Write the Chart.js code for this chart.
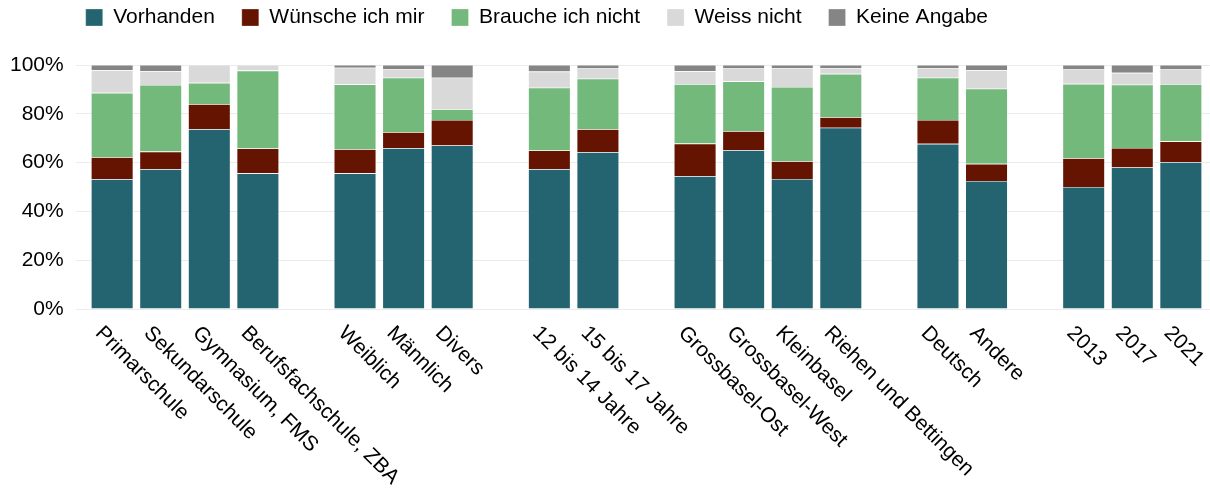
<!DOCTYPE html>
<html>
<head>
<meta charset="utf-8">
<title>Angebot nach Gruppen</title>
<script src="https://cdn.jsdelivr.net/npm/chart.js"></script>
<style>
body{margin:0;background:#fff;}
#wrap{width:1210px;height:500px;}
</style>
</head>
<body>
<div id="wrap"><canvas id="chart" width="1210" height="500"></canvas></div>

<script>
// categories, '' marks the blank slot between two groups
const categories=["Primarschule","Sekundarschule","Gymnasium, FMS","Berufsfachschule, ZBA","",
"Weiblich","Männlich","Divers","",
"12 bis 14 Jahre","15 bis 17 Jahre","",
"Grossbasel-Ost","Grossbasel-West","Kleinbasel","Riehen und Bettingen","",
"Deutsch","Andere","",
"2013","2017","2021"];

// shares in percent
const vorhanden=[53.2,57.3,73.7,55.6,null,55.6,65.9,67.0,null,57.3,64.3,null,54.4,65.1,53.3,74.3,null,67.7,52.5,null,50.0,58.0,60.2];
const wuensche=[9.0,7.2,10.3,10.2,null,9.9,6.6,10.5,null,7.7,9.4,null,13.4,7.8,7.3,4.3,null,9.8,7.0,null,11.8,8.0,8.5];
const braucheNicht=[26.4,27.3,8.7,31.9,null,26.6,22.3,4.4,null,25.7,20.7,null,24.4,20.4,30.4,17.8,null,17.3,30.8,null,30.5,25.9,23.5];
const weissNicht=[9.3,5.7,7.3,2.3,null,6.8,3.6,12.9,null,6.6,4.2,null,5.2,5.3,7.8,2.4,null,4.0,7.6,null,5.9,4.9,6.0];
const keineAngabe=[2.1,2.5,0,0,null,1.1,1.6,5.2,null,2.7,1.4,null,2.6,1.4,1.2,1.2,null,1.2,2.1,null,1.8,3.2,1.8];

const yTicks=[0,20,40,60,80,100];

const seriesNames=["Vorhanden","Wünsche ich mir","Brauche ich nicht","Weiss nicht","Keine Angabe"];
const seriesValues=[vorhanden,wuensche,braucheNicht,weissNicht,keineAngabe];
const seriesColors=["#246470","#641400","#73b97b","#d9d9d9","#858585"];

const FONT="'Liberation Sans', Arial, sans-serif";

// extra room below the legend, and legend pulled a bit to the left
const legendPlace={
id:"legendPlace",
beforeInit(chart){
const fit=chart.legend.fit;
chart.legend.fit=function(){
fit.call(this);
this.height+=27;
};
},
afterLayout(chart){
chart.legend.left-=17;
chart.legend.right-=17;
}
};

// category names, rotated 45deg and running down to the right
const slantLabels={
id:"slantLabels",
afterDraw(chart){
const ctx=chart.ctx;
const x=chart.scales.x;
ctx.save();
ctx.font="21px "+FONT;
ctx.fillStyle="#000";
ctx.textAlign="left";
ctx.textBaseline="alphabetic";
categories.forEach((name,i)=>{
if(!name)return;
const px=x.getPixelForValue(i);
ctx.save();
ctx.translate(px-17.6,chart.chartArea.bottom+25);
ctx.rotate(Math.PI/4);
ctx.fillText(name,0,0);
ctx.restore();
});
ctx.restore();
}
};

new Chart(document.getElementById("chart"),{
type:"bar",
data:{
datasets:seriesNames.map((name,s)=>({
label:name,
data:seriesValues[s].map((v,i)=>({x:i,y:v})),
backgroundColor:seriesColors[s],
borderColor:"rgba(255,255,255,0.45)",
borderWidth:0.6,
categoryPercentage:1,
barPercentage:0.87
}))
},
options:{
responsive:false,
animation:false,
layout:{padding:{top:-20,bottom:191,right:0,left:-2}},
plugins:{
legend:{
position:"top",
align:"start",
fullSize:false,
labels:{
boxWidth:17,
boxHeight:17,
padding:27,
color:"#000",
font:{family:FONT,size:21}
}
},
tooltip:{enabled:false}
},
scales:{
x:{
type:"linear",
stacked:true,
offset:false,
min:-0.75,
max:22.6,
display:false
},
y:{
stacked:true,
min:0,
max:100,
afterBuildTicks(axis){
axis.ticks=yTicks.map(v=>({value:v}));
},
border:{display:false},
grid:{color:"#ebebeb",lineWidth:1,drawTicks:false},
ticks:{
padding:12,
color:"#000",
font:{family:FONT,size:21},
callback:v=>v+"%"
}
}
}
},
plugins:[legendPlace,slantLabels]
});
</script>
</body>
</html>
